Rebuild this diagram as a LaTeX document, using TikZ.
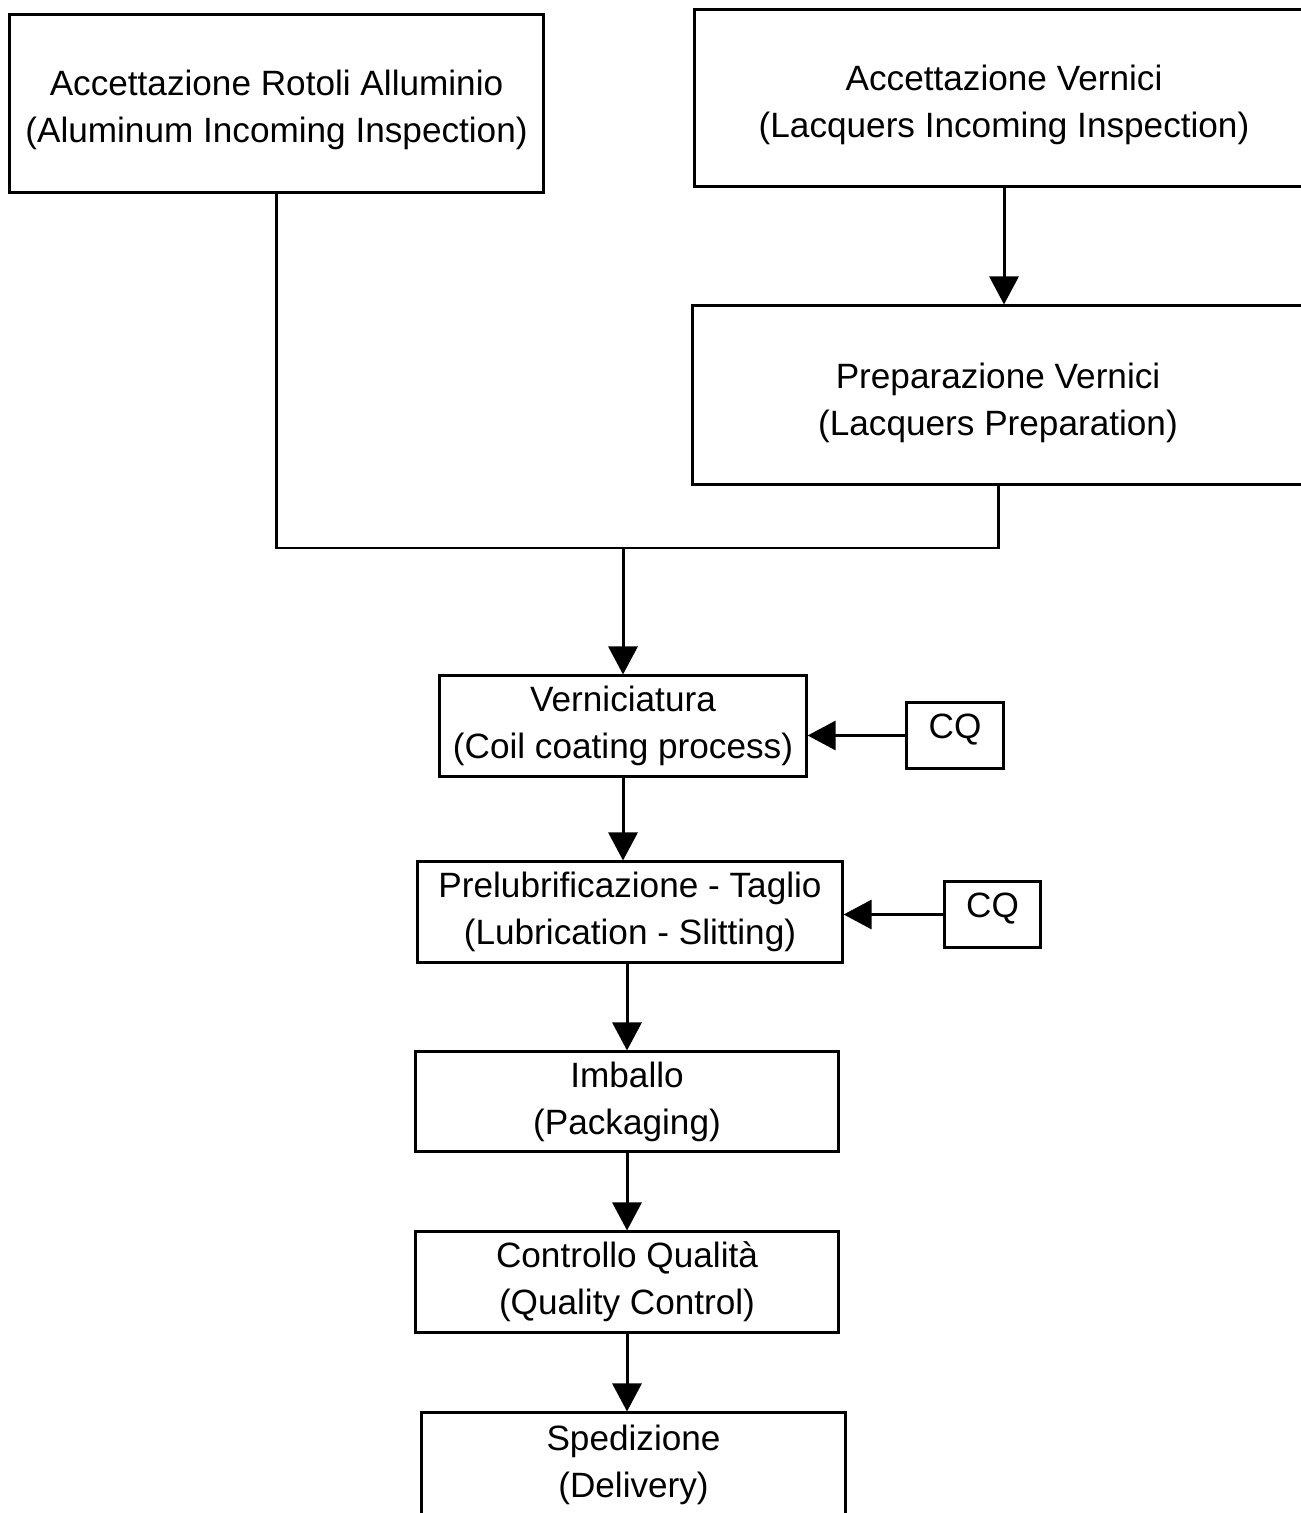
\documentclass[tikz,border=0pt]{standalone}
\usepackage{fontspec}
\setmainfont{Liberation Sans}
\usetikzlibrary{arrows.meta, positioning}

\begin{document}
\begin{tikzpicture}[x=0.01cm, y=-0.01cm,
    box/.style={draw, line width=0.85pt, inner sep=0pt, align=center,
      font=\fontsize{10}{13.4}\selectfont},
    cqbox/.style={box, minimum width=0.96cm, minimum height=0.65cm, text depth=5pt},
    flow/.style={-{Triangle[length=0.28cm, width=0.29cm]}, line width=0.85pt}]
    \useasboundingbox (0,0) rectangle (1300,1513);

    % Accettazione materie prime
    \node[box, minimum width=5.33cm, minimum height=1.77cm] (alu) at (276.5,103.5)
        {\rule{0pt}{10.7pt}Accettazione Rotoli Alluminio\\(Aluminum Incoming Inspection)};
    \node[box, minimum width=6.18cm, minimum height=1.76cm] (acc) at (1004,98)
        {\rule{0pt}{11.3pt}Accettazione Vernici\\(Lacquers Incoming Inspection)};
    \node[box, minimum width=6.1cm, minimum height=1.78cm] (prep) at (998,395)
        {\rule{0pt}{11.5pt}Preparazione Vernici\\(Lacquers Preparation)};
    \coordinate (join) at (623,548);

    % Linea di produzione
    \node[box, minimum width=3.66cm, minimum height=1.0cm] (vern) at (623,726)
        {Verniciatura\\(Coil coating process)};
    \node[cqbox] (cq1) at (955,735.5) {CQ};
    \node[box, minimum width=4.24cm, minimum height=1.0cm] (prel) at (630,912)
        {Prelubrificazione - Taglio\\(Lubrication - Slitting)};
    \node[cqbox] (cq2) at (992.5,914.5) {CQ};
    \node[box, minimum width=4.22cm, minimum height=0.99cm] (imb) at (627,1101.5)
        {Imballo\\(Packaging)};
    \node[box, minimum width=4.22cm, minimum height=1.0cm] (ctrl) at (627,1282)
        {Controllo Qualità\\(Quality Control)};
    \node[box, minimum width=4.23cm, minimum height=1.1cm, text depth=4pt] (sped) at (633.5,1468)
        {Spedizione\\(Delivery)};

    % Collegamenti
    \draw[flow] (acc.south) -- (acc.south |- prep.north);
    \draw[line width=0.85pt] (alu.south) |- (join) -| (prep.south);
    \draw[flow] (join) -- (vern.north);
    \draw[flow] (cq1.west) -- (cq1.west -| vern.east);
    \draw[flow] (vern.south) -- (vern.south |- prel.north);
    \draw[flow] (cq2.west) -- (cq2.west -| prel.east);
    \draw[flow] (imb.north |- prel.south) -- (imb.north);
    \draw[flow] (imb.south) -- (imb.south |- ctrl.north);
    \draw[flow] (ctrl.south) -- (ctrl.south |- sped.north);
\end{tikzpicture}
\end{document}
